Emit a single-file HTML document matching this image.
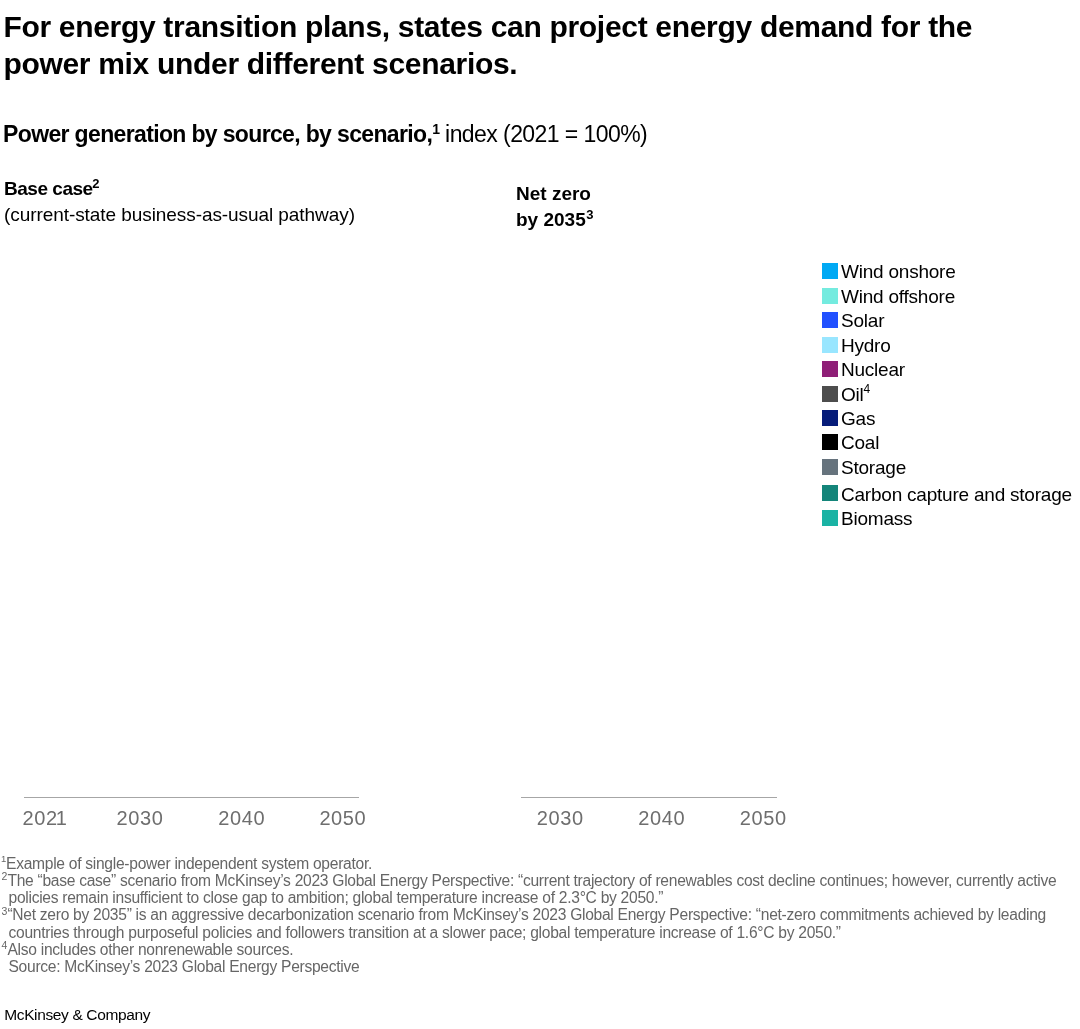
<!DOCTYPE html>
<html>
<head>
<meta charset="utf-8">
<style>
html,body{-webkit-font-smoothing:antialiased;will-change:transform;margin:0;padding:0;background:#fff;}
body{width:1080px;height:1029px;position:relative;overflow:hidden;font-family:"Liberation Sans",Arial,sans-serif;color:#000;}
.a{position:absolute;white-space:nowrap;}
sup{font-size:0.6em;vertical-align:0;position:relative;top:-0.6em;line-height:0;}
#title{left:3.4px;top:7.6px;font-size:30px;line-height:37px;font-weight:bold;letter-spacing:-0.31px;}
#sub{left:3.1px;top:121px;font-size:23px;line-height:26px;letter-spacing:-0.57px;}
#sub b{letter-spacing:-0.65px;}
#sub sup{font-size:14px;top:-0.6em;}
.panel-h{font-size:19px;line-height:26px;}
.panel-h sup{font-size:13px;top:-0.56em;margin-left:0.5px;}
#base sup{margin-left:-0.5px;}
#base{left:4px;top:176px;}
#nz{left:516px;top:181px;}
.leg{position:absolute;left:822.2px;font-size:19px;line-height:20px;letter-spacing:-0.22px;}
.leg i{position:absolute;left:0;top:0;width:16px;height:16px;}
.leg span{position:absolute;left:18.8px;top:-0.8px;white-space:nowrap;}
.leg sup{font-size:12px;top:-0.65em;}
.axis{position:absolute;top:797px;height:1px;background:#a6a6a6;}
.yr{position:absolute;top:806px;font-size:20px;line-height:24px;color:#6e6e6e;letter-spacing:0.6px;}
#fn{left:0px;top:854.6px;font-size:15.6px;line-height:17.25px;color:#666;letter-spacing:-0.28px;}
#fn div{padding-left:8.5px;text-indent:-7.5px;}
#fn div.src{text-indent:0;}
#fn sup{font-size:9.5px;top:-0.65em;}
#fn sup.w{font-size:10.5px;top:-0.55em;margin-left:0.6px;margin-right:0.3px;}
#logo{left:4.2px;top:1005.7px;letter-spacing:-0.36px;font-size:15.5px;line-height:18px;color:#000;}
</style>
</head>
<body>
<div class="a" id="title">For energy transition plans, states can project energy demand for the<br>power mix under different scenarios.</div>
<div class="a" id="sub"><b>Power generation by source, by scenario,<sup>1</sup></b> index (2021 = 100%)</div>
<div class="a panel-h" id="base"><b style="letter-spacing:-0.48px">Base case<sup>2</sup></b><br><span style="letter-spacing:-0.07px">(current-state business-as-usual pathway)</span></div>
<div class="a panel-h" id="nz"><b>Net zero<br>by 2035<sup>3</sup></b></div>

<div class="leg" style="top:263.0px"><i style="background:#00a9f4"></i><span>Wind onshore</span></div>
<div class="leg" style="top:287.5px"><i style="background:#74ebdf"></i><span>Wind offshore</span></div>
<div class="leg" style="top:312.0px"><i style="background:#2251ff"></i><span>Solar</span></div>
<div class="leg" style="top:336.5px"><i style="background:#99e6ff"></i><span>Hydro</span></div>
<div class="leg" style="top:361.0px"><i style="background:#8f1f77"></i><span>Nuclear</span></div>
<div class="leg" style="top:385.6px"><i style="background:#4d4d4d"></i><span>Oil<sup>4</sup></span></div>
<div class="leg" style="top:409.8px"><i style="background:#061c7a"></i><span>Gas</span></div>
<div class="leg" style="top:434.2px"><i style="background:#000"></i><span>Coal</span></div>
<div class="leg" style="top:458.8px"><i style="background:#66737d"></i><span>Storage</span></div>
<div class="leg" style="top:485.3px"><i style="background:#14857a"></i><span>Carbon capture and storage</span></div>
<div class="leg" style="top:509.8px"><i style="background:#1ab3a4"></i><span>Biomass</span></div>

<div class="axis" style="left:24px;width:335px"></div>
<div class="axis" style="left:521px;width:256px"></div>
<div class="yr" style="left:22.5px">202<span style="margin-left:-2px">1</span></div>
<div class="yr" style="left:116.6px">2030</div>
<div class="yr" style="left:218.3px">2040</div>
<div class="yr" style="left:319.4px">2050</div>
<div class="yr" style="left:536.8px">2030</div>
<div class="yr" style="left:638.3px">2040</div>
<div class="yr" style="left:739.8px">2050</div>

<div class="a" id="fn">
<div><sup>1</sup>Example of single-power independent system operator.</div>
<div><sup class="w">2</sup>The “base case” scenario from McKinsey’s 2023 Global Energy Perspective: “current trajectory of renewables cost decline continues; however, currently active<br>policies remain insufficient to close gap to ambition; global temperature increase of 2.3°C by 2050.”</div>
<div><sup class="w">3</sup>“Net zero by 2035” is an aggressive decarbonization scenario from McKinsey’s 2023 Global Energy Perspective: “net-zero commitments achieved by leading<br>countries through purposeful policies and followers transition at a slower pace; global temperature increase of 1.6°C by 2050.”</div>
<div><sup class="w">4</sup>Also includes other nonrenewable sources.</div>
<div class="src">Source: McKinsey’s 2023 Global Energy Perspective</div>
</div>

<div class="a" id="logo">McKinsey &amp; Company</div>
</body>
</html>
